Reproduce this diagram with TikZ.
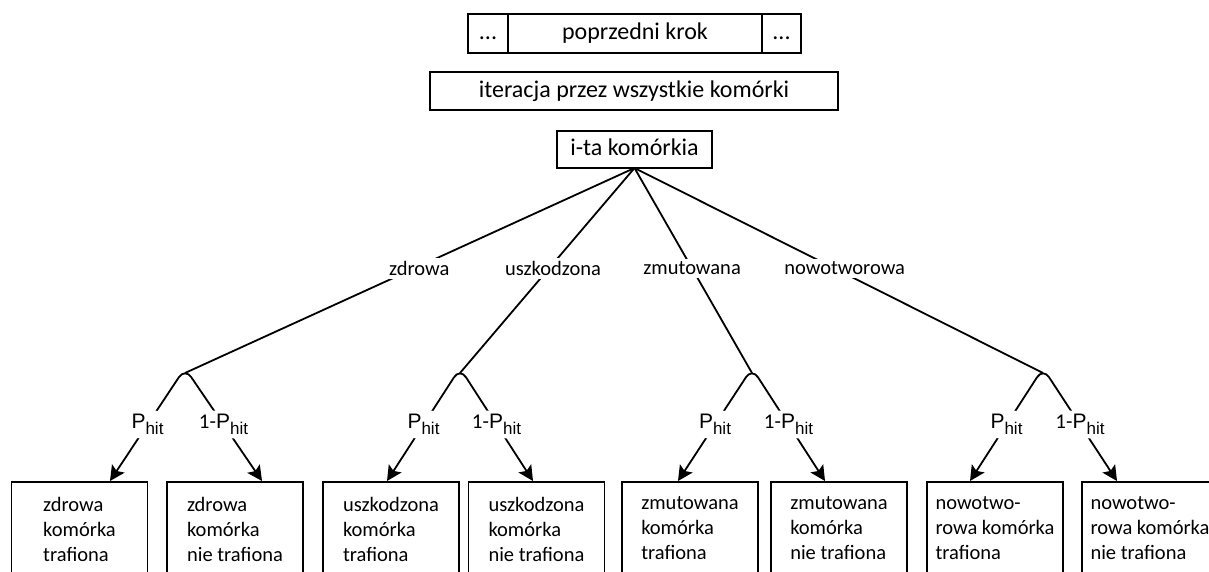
\documentclass[tikz,border=0pt]{standalone}
\usepackage{fontspec}
\setmainfont{Carlito}
\newfontfamily\arialfont{Liberation Sans}
\usetikzlibrary{positioning,arrows.meta}
\newcommand{\phit}{{\arialfont P\raisebox{-6pt}{\fontsize{17}{17}\selectfont hit}}}

\begin{document}
\begin{tikzpicture}[x=1pt,y=-1pt,
  every node/.style={font=\fontsize{20.5}{25}\selectfont},
  topbox/.style={draw,line width=1.8pt,outer sep=0pt,inner sep=0pt,minimum height=39pt,text height=17pt,text depth=5pt,font=\fontsize{24}{28}\selectfont},
  cellbox/.style={draw,line width=1.8pt,anchor=north,minimum width=136pt,align=left,inner xsep=4pt,inner ysep=15pt,text depth=40pt,execute at begin node=\strut},
  branch/.style={line width=1.8pt},
  lbl/.style={fill=white,inner sep=3pt},
  plbl/.style={fill=white,inner sep=3.5pt,font=\fontsize{21}{21}\selectfont},
  arr/.style={branch,rounded corners=11pt,{Stealth[length=15pt,width=15pt,inset=3pt]}-{Stealth[length=15pt,width=15pt,inset=3pt]}}]
\useasboundingbox (0,0) rectangle (1209,571);
\clip (0,0) rectangle (1209,571);

\node[topbox,minimum width=254pt] (prev) at (635,33.5) {poprzedni krok};
\node[topbox,minimum width=40pt,left=0pt of prev] (dotsl) {...};
\node[topbox,minimum width=39pt,right=0pt of prev] (dotsr) {...};
\node[topbox,minimum width=408pt,minimum height=38pt] (iter) at (634,91) {iteracja przez wszystkie komórki};
\node[topbox,minimum width=155pt,minimum height=37pt] (cell) at (634.5,149.5) {i-ta komórkia};

\coordinate (j1) at (185,373);
\coordinate (j2) at (460,373);
\coordinate (j3) at (752,373);
\coordinate (j4) at (1043,373);

\draw[branch] (cell.south) -- node[lbl,pos=0.49,xshift=5pt] {zdrowa} (j1);
\draw[branch] (cell.south) -- node[lbl,pos=0.49,xshift=4pt] {uszkodzona} (j2);
\draw[branch] (cell.south) -- node[lbl,pos=0.49] {zmutowana} (j3);
\draw[branch] (cell.south) -- node[lbl,pos=0.49,xshift=10pt] {nowotworowa} (j4);

\node[cellbox] (c1) at (79.5,481) {zdrowa\\komórka\\trafiona};
\node[cellbox] (c2) at (235,481) {zdrowa\\komórka\\nie trafiona};
\node[cellbox] (c3) at (391,481) {uszkodzona\\komórka\\trafiona};
\node[cellbox] (c4) at (536.5,481) {uszkodzona\\komórka\\nie trafiona};
\node[cellbox] (c5) at (690,481) {zmutowana\\komórka\\trafiona};
\node[cellbox] (c6) at (839,481) {zmutowana\\komórka\\nie trafiona};
\node[cellbox] (c7) at (995,481) {nowotwo-\\rowa komórka\\trafiona};
\node[cellbox] (c8) at (1150,481) {nowotwo-\\rowa komórka\\nie trafiona};

\draw[arr] ([xshift=-75pt]j1 |- c1.north) -- node[plbl] {\phit} ([yshift=5pt]j1) -- node[plbl] {1-\phit} ([xshift=77pt]j1 |- c2.north);
\draw[arr] ([xshift=-73pt]j2 |- c3.north) -- node[plbl] {\phit} ([yshift=5pt]j2) -- node[plbl] {1-\phit} ([xshift=73pt]j2 |- c4.north);
\draw[arr] ([xshift=-74pt]j3 |- c5.north) -- node[plbl] {\phit} ([yshift=5pt]j3) -- node[plbl] {1-\phit} ([xshift=73pt]j3 |- c6.north);
\draw[arr] ([xshift=-73pt]j4 |- c7.north) -- node[plbl] {\phit} ([yshift=5pt]j4) -- node[plbl] {1-\phit} ([xshift=74pt]j4 |- c8.north);
\end{tikzpicture}
\end{document}
